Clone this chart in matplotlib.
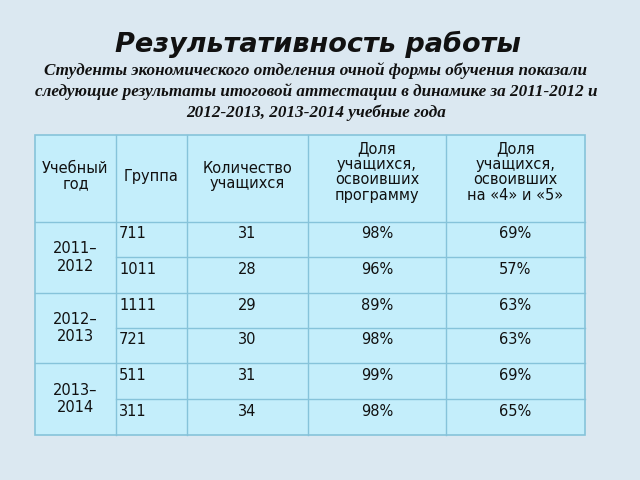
import matplotlib
matplotlib.use("Agg")
import matplotlib.pyplot as plt
from matplotlib.patches import Rectangle

title = "Результативность работы"
subtitle = ["Студенты экономического отделения очной формы обучения показали",
            "следующие результаты итоговой аттестации в динамике за 2011-2012 и",
            "2012-2013, 2013-2014 учебные года"]
headers = ["Учебный\nгод", "Группа", "Количество\nучащихся",
           "Доля\nучащихся,\nосвоивших\nпрограмму",
           "Доля\nучащихся,\nосвоивших\nна «4» и «5»"]
years = ["2011–\n2012", "2012–\n2013", "2013–\n2014"]
groups = ["711", "1011", "1111", "721", "511", "311"]
counts = ["31", "28", "29", "30", "31", "34"]
program = ["98%", "96%", "89%", "98%", "99%", "98%"]
good = ["69%", "57%", "63%", "63%", "69%", "65%"]

fig = plt.figure(figsize=(6.4, 4.8), dpi=100)
fig.patch.set_facecolor("#dbe8f1")
ax = fig.add_axes([0, 0, 1, 1])
ax.set_xlim(0, 640); ax.set_ylim(480, 0); ax.axis("off")

ax.text(318, 44, title, ha="center", va="center", fontsize=19.5, fontweight="bold",
        style="italic", family="DejaVu Sans", color="#111")
for i, line in enumerate(subtitle):
    ax.text(316, 71 + i * 21, line, ha="center", va="center", fontsize=12.3,
            fontweight="bold", style="italic", family="Liberation Serif", color="#111")

xs = [35, 116, 187, 308, 446, 585]
ys = [135, 222, 257, 293, 328, 363, 399, 435]
cell = "#c4eefb"; edge = "#86c3da"
ax.add_patch(Rectangle((xs[0], ys[0]), xs[-1] - xs[0], ys[-1] - ys[0],
                       facecolor=cell, edgecolor=edge, lw=1.2))
for x in xs[1:-1]:
    ax.plot([x, x], [ys[0], ys[-1]], color=edge, lw=1)
ax.plot([xs[0], xs[-1]], [ys[1], ys[1]], color=edge, lw=1)
for k, y in enumerate(ys[2:-1]):
    x0 = xs[0] if k % 2 == 1 else xs[1]
    ax.plot([x0, xs[-1]], [y, y], color=edge, lw=1)

fs = 10.5
hc = [(xs[i] + xs[i + 1]) / 2 for i in range(5)]
for i, h in enumerate(headers):
    yc = 176 if i < 3 else 172
    ax.text(hc[i], yc, h, ha="center", va="center", fontsize=fs, linespacing=1.05, color="#111")
for j, yv in enumerate(years):
    ax.text(hc[0], (ys[1 + 2 * j] + ys[3 + 2 * j]) / 2, yv, ha="center", va="center",
            fontsize=fs, color="#111")
for r in range(6):
    y = ys[1 + r] + 12
    ax.text(xs[1] + 3, y, groups[r], ha="left", va="center", fontsize=fs, color="#111")
    ax.text(hc[2], y, counts[r], ha="center", va="center", fontsize=fs, color="#111")
    ax.text(hc[3], y, program[r], ha="center", va="center", fontsize=fs, color="#111")
    ax.text(hc[4], y, good[r], ha="center", va="center", fontsize=fs, color="#111")

fig.savefig("out.png", dpi=100, facecolor=fig.get_facecolor())
